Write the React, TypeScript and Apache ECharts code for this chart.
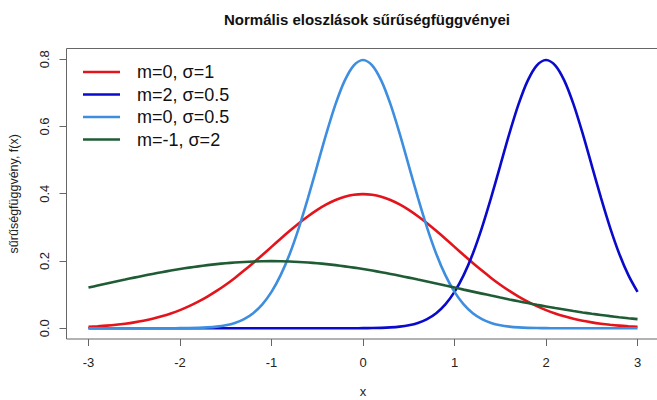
import React, { useEffect, useRef } from "react";
import * as echarts from "echarts";

const xs = [
  -3.0, -2.9, -2.8, -2.7, -2.6, -2.5, -2.4, -2.3, -2.2, -2.1,
  -2.0, -1.9, -1.8, -1.7, -1.6, -1.5, -1.4, -1.3, -1.2, -1.1,
  -1.0, -0.9, -0.8, -0.7, -0.6, -0.5, -0.4, -0.3, -0.2, -0.1,
  0.0, 0.1, 0.2, 0.3, 0.4, 0.5, 0.6, 0.7, 0.8, 0.9,
  1.0, 1.1, 1.2, 1.3, 1.4, 1.5, 1.6, 1.7, 1.8, 1.9,
  2.0, 2.1, 2.2, 2.3, 2.4, 2.5, 2.6, 2.7, 2.8, 2.9, 3.0,
];

// m=0, sigma=1
const red = [
  0.0044, 0.006, 0.0079, 0.0104, 0.0136, 0.0175, 0.0224, 0.0283, 0.0355, 0.044,
  0.054, 0.0656, 0.079, 0.094, 0.1109, 0.1295, 0.1497, 0.1714, 0.1942, 0.2179,
  0.242, 0.2661, 0.2897, 0.3123, 0.3332, 0.3521, 0.3683, 0.3814, 0.391, 0.397,
  0.3989, 0.397, 0.391, 0.3814, 0.3683, 0.3521, 0.3332, 0.3123, 0.2897, 0.2661,
  0.242, 0.2179, 0.1942, 0.1714, 0.1497, 0.1295, 0.1109, 0.094, 0.079, 0.0656,
  0.054, 0.044, 0.0355, 0.0283, 0.0224, 0.0175, 0.0136, 0.0104, 0.0079, 0.006, 0.0044,
];

// m=2, sigma=0.5
const darkBlue = [
  0, 0, 0, 0, 0, 0, 0, 0, 0, 0,
  0, 0, 0, 0, 0, 0, 0, 0, 0, 0,
  0, 0, 0, 0, 0, 0, 0, 0, 0.0001, 0.0001,
  0.0003, 0.0006, 0.0012, 0.0025, 0.0048, 0.0089, 0.0158, 0.0272, 0.0448, 0.071,
  0.108, 0.1579, 0.2218, 0.2995, 0.3884, 0.4839, 0.5794, 0.6664, 0.7365, 0.7821,
  0.7979, 0.7821, 0.7365, 0.6664, 0.5794, 0.4839, 0.3884, 0.2995, 0.2218, 0.1579, 0.108,
];

// m=0, sigma=0.5
const lightBlue = [
  0, 0, 0, 0, 0, 0, 0, 0, 0.0001, 0.0001,
  0.0003, 0.0006, 0.0012, 0.0025, 0.0048, 0.0089, 0.0158, 0.0272, 0.0448, 0.071,
  0.108, 0.1579, 0.2218, 0.2995, 0.3884, 0.4839, 0.5794, 0.6664, 0.7365, 0.7821,
  0.7979, 0.7821, 0.7365, 0.6664, 0.5794, 0.4839, 0.3884, 0.2995, 0.2218, 0.1579,
  0.108, 0.071, 0.0448, 0.0272, 0.0158, 0.0089, 0.0048, 0.0025, 0.0012, 0.0006,
  0.0003, 0.0001, 0.0001, 0, 0, 0, 0, 0, 0, 0, 0,
];

// m=-1, sigma=2
const green = [
  0.121, 0.127, 0.133, 0.139, 0.1448, 0.1506, 0.1561, 0.1615, 0.1666, 0.1715,
  0.176, 0.1803, 0.1841, 0.1876, 0.1907, 0.1933, 0.1955, 0.1972, 0.1985, 0.1992,
  0.1995, 0.1992, 0.1985, 0.1972, 0.1955, 0.1933, 0.1907, 0.1876, 0.1841, 0.1803,
  0.176, 0.1715, 0.1666, 0.1615, 0.1561, 0.1506, 0.1448, 0.139, 0.133, 0.127,
  0.121, 0.1149, 0.1089, 0.103, 0.0971, 0.0913, 0.0857, 0.0802, 0.0749, 0.0697,
  0.0648, 0.06, 0.0555, 0.0511, 0.047, 0.0431, 0.0395, 0.036, 0.0328, 0.0298, 0.027,
];

const seriesNames = ["m=0, σ=1", "m=2, σ=0.5", "m=0, σ=0.5", "m=-1, σ=2"];
const seriesColors = ["#E3141B", "#0A0ACD", "#3E8EE0", "#1F5C36"];
const seriesValues = [red, darkBlue, lightBlue, green];

const xTicks = [-3, -2, -1, 0, 1, 2, 3];
const yTicks = [0, 0.2, 0.4, 0.6, 0.8];

const FONT = "Liberation Sans, Arial, sans-serif";

export default function App() {
  const ref = useRef<HTMLDivElement>(null);
  useEffect(() => {
    if (!ref.current) return;
    const chart = echarts.init(ref.current, undefined, { renderer: "svg" });
    chart.setOption({
      animation: false,
      backgroundColor: "#ffffff",
      textStyle: { fontFamily: FONT },
      title: {
        text: "Normális eloszlások sűrűségfüggvényei",
        left: 362,
        top: 7,
        textAlign: "center",
        textStyle: { fontFamily: FONT, fontSize: 15, fontWeight: "bold", color: "#111" },
      },
      legend: {
        orient: "vertical",
        left: 78,
        top: 58,
        padding: 5,
        itemWidth: 37,
        itemHeight: 18,
        itemGap: 4.5,
        icon: "path://M0,8 L37,8 L37,10.5 L0,10.5 Z",
        data: seriesNames,
        textStyle: { fontFamily: FONT, fontSize: 18, color: "#111", padding: [0, 0, 0, 12], lineHeight: 18 },
      },
      grid: {
        left: 66.5,
        right: -2.5,
        top: 48.5,
        bottom: 61,
        containLabel: false,
        outerBoundsMode: "none",
        show: true,
        borderColor: "#666",
        borderWidth: 1,
        backgroundColor: "transparent",
      },
      xAxis: {
        type: "value",
        min: -3.24,
        max: 3.24,
        name: "x",
        nameLocation: "middle",
        nameGap: 46,
        nameTextStyle: { fontFamily: FONT, fontSize: 13, color: "#222" },
        axisLine: { show: false, onZero: false },
        splitLine: { show: false },
        axisTick: {
          show: true,
          inside: false,
          length: 7,
          customValues: xTicks,
          lineStyle: { color: "#666", width: 1 },
        },
        axisLabel: {
          customValues: xTicks,
          margin: 17,
          fontFamily: FONT,
          fontSize: 13,
          color: "#222",
          formatter: (v: number) => String(v),
        },
      },
      yAxis: {
        type: "value",
        min: -0.032,
        max: 0.832,
        name: "sűrűségfüggvény, f(x)",
        nameLocation: "middle",
        nameGap: 46,
        nameRotate: 90,
        nameTextStyle: { fontFamily: FONT, fontSize: 12.5, color: "#222" },
        axisLine: { show: false, onZero: false },
        splitLine: { show: false },
        axisTick: {
          show: true,
          inside: false,
          length: 7,
          customValues: yTicks,
          lineStyle: { color: "#666", width: 1 },
        },
        axisLabel: {
          customValues: yTicks,
          rotate: 90,
          margin: 16,
          fontFamily: FONT,
          fontSize: 13,
          color: "#222",
          formatter: (v: number) => v.toFixed(1),
        },
      },
      series: seriesValues.map((vals, i) => ({
        type: "line",
        name: seriesNames[i],
        data: xs.map((x, j) => [x, vals[j]]),
        showSymbol: false,
        symbol: "none",
        smooth: 0.3,
        color: seriesColors[i],
        lineStyle: { color: seriesColors[i], width: 2.6 },
        itemStyle: { color: seriesColors[i] },
        z: 2 + i,
      })),
    });
    return () => chart.dispose();
  }, []);
  return (
    <div
      ref={ref}
      style={{ position: "fixed", left: 0, top: 0, width: 657, height: 400 }}
    />
  );
}
